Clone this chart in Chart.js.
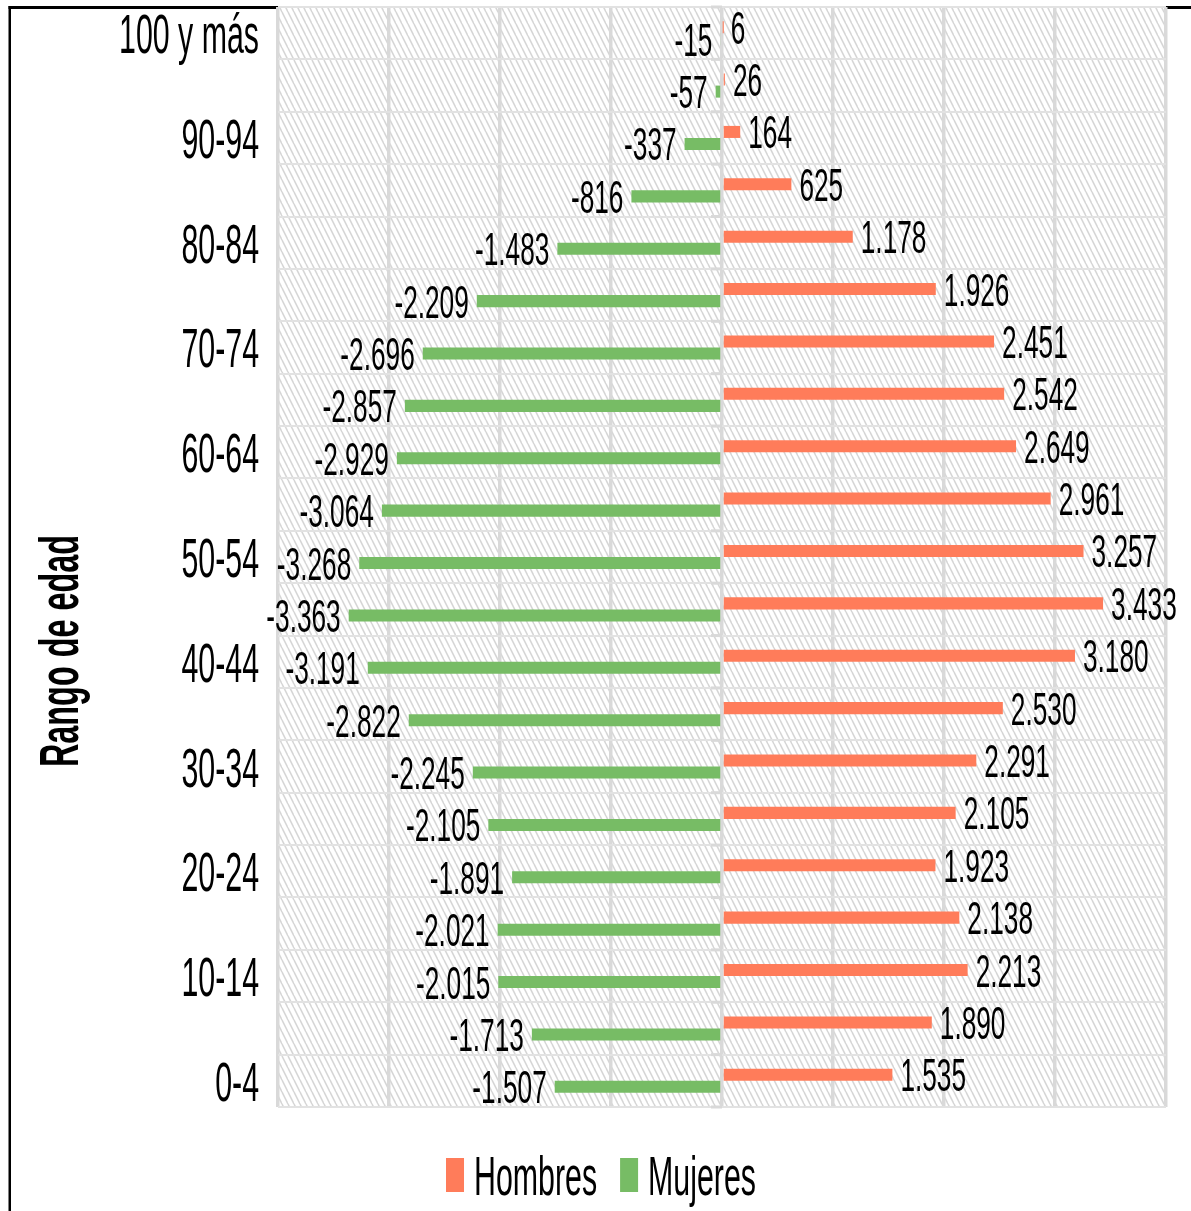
<!DOCTYPE html>
<html><head><meta charset="utf-8">
<script src="https://cdn.jsdelivr.net/npm/chart.js@4.4.1/dist/chart.umd.min.js"></script>
<style>html,body{margin:0;padding:0;background:#fff;overflow:hidden}#wrap{width:1191px;height:1211px;position:relative}canvas{display:block}</style>
</head><body><div id="wrap"><canvas id="c" width="1191" height="1211"></canvas></div>
<script>
// ---- data (top to bottom) ----
const categories = ['100 y más','95-99','90-94','85-89','80-84','75-79','70-74','65-69','60-64','55-59','50-54','45-49','40-44','35-39','30-34','25-29','20-24','15-19','10-14','5-9','0-4'];
const tickLabels = ['100 y más','90-94','80-84','70-74','60-64','50-54','40-44','30-34','20-24','10-14','0-4'];
const hombres = [6,26,164,625,1178,1926,2451,2542,2649,2961,3257,3433,3180,2530,2291,2105,1923,2138,2213,1890,1535];
const mujeres = [-15,-57,-337,-816,-1483,-2209,-2696,-2857,-2929,-3064,-3268,-3363,-3191,-2822,-2245,-2105,-1891,-2021,-2015,-1713,-1507];
const seriesNames = ['Hombres','Mujeres'];
const axisTitle = 'Rango de edad';
const xMin = -4000, xMax = 4000, xStep = 1000;

const COL_H = '#FF7C5A', COL_M = '#77BC65';

// font detection
const probe = document.createElement('canvas').getContext('2d');
function w(f){probe.font = f; return probe.measureText('Hombres Mujeres 0123').width;}
const narrowOK = w('40px "Liberation Sans Narrow", monospace') !== w('40px monospace');
const FAM = narrowOK ? '"Liberation Sans Narrow"' : '"Liberation Sans", Arial, sans-serif';
const SX = narrowOK ? 1 : 0.82;

function fmt(v){
  const s = Math.abs(v).toString().replace(/\B(?=(\d{3})+(?!\d))/g,'.');
  return (v<0?'-':'') + s;
}
function drawText(ctx, txt, x, y, o){
  ctx.save();
  ctx.translate(x, y);
  if (o.rot) ctx.rotate(o.rot);
  ctx.scale(SX*(o.sx||1), o.sy||1);
  ctx.font = (o.bold?'bold ':'') + o.size + 'px ' + FAM;
  ctx.fillStyle = o.color || '#000';
  ctx.textAlign = o.align || 'left';
  ctx.textBaseline = 'alphabetic';
  ctx.fillText(txt, 0, 0);
  ctx.restore();
}
function textW(ctx, txt, size, bold){
  ctx.save(); ctx.font=(bold?'bold ':'')+size+'px '+FAM; const m=ctx.measureText(txt).width*SX; ctx.restore(); return m;
}

let pattern = null;
function getPattern(ctx){
  if (pattern) return pattern;
  const tile = document.createElement('canvas'); tile.width = 6; tile.height = 12;
  const t = tile.getContext('2d');
  t.strokeStyle = '#d6d6d6'; t.lineWidth = 1.6;
  for (const off of [-6,0,6]) { t.beginPath(); t.moveTo(off,0); t.lineTo(off+6,12); t.stroke(); }
  pattern = ctx.createPattern(tile,'repeat');
  return pattern;
}

const decor = {
  id:'decor',
  beforeDraw(chart){
    const ctx = chart.ctx, a = chart.chartArea;
    ctx.save();
    ctx.fillStyle = '#fff'; ctx.fillRect(0,0,chart.width,chart.height);
    // outer frame (partially hidden)
    ctx.fillStyle = '#000';
    ctx.fillRect(8.5, 6, 2.5, chart.height-6);
    ctx.fillRect(8.5, 6, a.left-8.5, 3);
    ctx.fillRect(a.right, 6, chart.width-a.right, 3);
    // hatched plot background
    ctx.fillStyle = getPattern(ctx);
    ctx.fillRect(a.left, a.top, a.right-a.left, a.bottom-a.top);
    ctx.restore();
  },
  beforeDatasetsDraw(chart){
    const ctx = chart.ctx, ys = chart.scales.y, xs = chart.scales.x;
    const x0 = xs.getPixelForValue(0);
    const step = ys.getPixelForValue(1) - ys.getPixelForValue(0);
    ctx.save();
    ctx.strokeStyle = '#d9d9d9'; ctx.lineWidth = 3;
    for (let i=0;i<=categories.length;i++){
      const y = ys.getPixelForValue(0) + (i-0.5)*step;
      ctx.beginPath(); ctx.moveTo(x0-11, y); ctx.lineTo(x0, y); ctx.stroke();
    }
    ctx.restore();
  },
  afterDraw(chart){
    const ctx = chart.ctx, ys = chart.scales.y, a = chart.chartArea;
    // category tick labels
    categories.forEach((c,i)=>{
      if (!tickLabels.includes(c)) return;
      const y = ys.getPixelForValue(i);
      drawText(ctx, c, 259, y + 0.716*37*1.51/2, {size:37, sy:1.51, align:'right'});
    });
    // data labels
    chart.data.datasets.forEach((ds,di)=>{
      const meta = chart.getDatasetMeta(di);
      meta.data.forEach((bar,i)=>{
        const v = ds.data[i];
        const by = bar.y + 0.716*32*1.44/2;
        if (v >= 0) drawText(ctx, fmt(v), bar.x + 8, by, {size:32, sy:1.44, align:'left'});
        else drawText(ctx, fmt(v), bar.x - 8, by, {size:32, sy:1.44, align:'right'});
      });
    });
    // axis title
    drawText(ctx, axisTitle, 78, 651, {size:39.5, sy:1.41, bold:true, align:'center', rot:-Math.PI/2});
    // legend
    const ls = 37, lsy = 1.5, box = 18, gap = 10, sep = 23;
    const items = chart.data.datasets.map(d=>({t:d.label, c:d.backgroundColor, w:textW(ctx,d.label,ls,false)}));
    let total = 0; items.forEach((it,k)=>{ total += box+gap+it.w + (k?sep:0); });
    let x = 601 - total/2;
    items.forEach((it,k)=>{
      if (k) x += sep;
      ctx.fillStyle = it.c; ctx.fillRect(x, 1158, box, 34);
      x += box+gap;
      drawText(ctx, it.t, x, 1195, {size:ls, sy:lsy, align:'left'});
      x += it.w;
    });
  }
};

new Chart(document.getElementById('c'), {
  type:'bar',
  data:{
    labels: categories,
    datasets:[
      {label: seriesNames[0], data: hombres, backgroundColor: COL_H, borderWidth:0, categoryPercentage:0.46, barPercentage:1},
      {label: seriesNames[1], data: mujeres, backgroundColor: COL_M, borderWidth:0, categoryPercentage:0.46, barPercentage:1}
    ]
  },
  options:{
    indexAxis:'y',
    responsive:false,
    animation:false,
    devicePixelRatio:1,
    layout:{padding:{left:278, right:25, top:7, bottom:104}},
    plugins:{legend:{display:false}, tooltip:{enabled:false}},
    scales:{
      x:{
        min:xMin, max:xMax,
        ticks:{display:false, stepSize:xStep},
        grid:{color:'#d9d9d9', lineWidth:3.5, drawTicks:false},
        border:{display:false},
        afterFit(s){ s.height = 0; }
      },
      y:{
        ticks:{display:false},
        grid:{color:'#e2e2e2', lineWidth:2, drawTicks:false, offset:true},
        border:{display:false},
        afterFit(s){ s.width = 0; }
      }
    }
  },
  plugins:[decor]
});
</script></body></html>
